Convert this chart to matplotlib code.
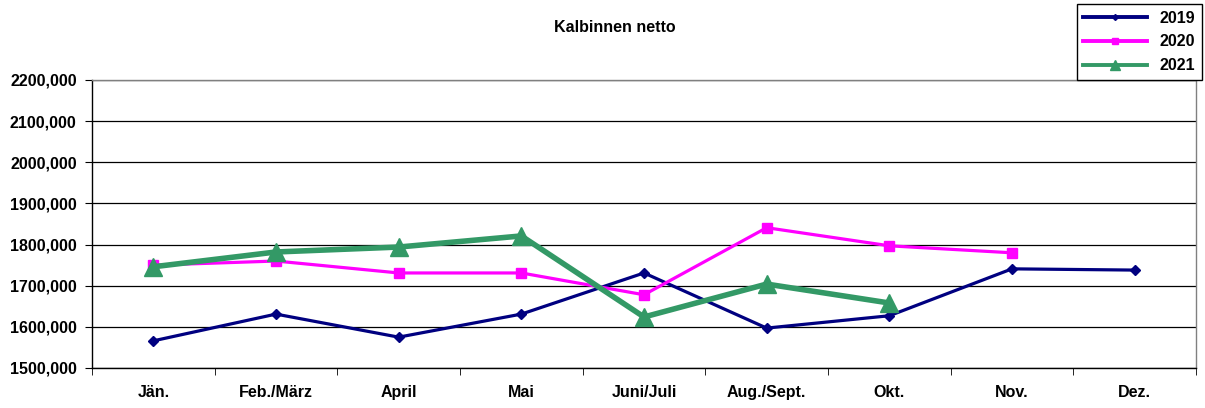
import numpy as np
import matplotlib.pyplot as plt

plt.rcParams['font.family'] = ['Liberation Sans', 'DejaVu Sans']
plt.rcParams['font.weight'] = 'bold'

months = ['Jän.', 'Feb./März', 'April', 'Mai', 'Juni/Juli', 'Aug./Sept.', 'Okt.', 'Nov.', 'Dez.']
v2019 = [1566, 1631, 1575, 1631, 1731, 1597, 1627, 1741, 1738]
v2020 = [1750, 1760, 1731, 1731, 1678, 1841, 1797, 1780]
v2021 = [1746, 1782, 1794, 1821, 1624, 1704, 1658]
y_ticks = [1500, 1600, 1700, 1800, 1900, 2000, 2100, 2200]

FS = 11.5

fig = plt.figure(figsize=(12.05, 4.08), dpi=100)
ax = fig.add_axes([92/1205, 40/408, (1196-92)/1205, (368-80)/408])

x = np.arange(len(months))
ax.plot(x, v2019, color='#000080', lw=2.3, marker='D', ms=5, label='2019', zorder=3)
ax.plot(x[:len(v2020)], v2020, color='#FF00FF', lw=2.3, marker='s', ms=7, label='2020', zorder=4)
ax.plot(x[:len(v2021)], v2021, color='#339966', lw=4, marker='^', ms=13, label='2021', zorder=5)

ax.set_xlim(-0.5, len(months) - 0.5)
ax.set_ylim(1500, 2200)
ax.set_yticks(y_ticks)
ax.set_yticklabels([f'{v},000' for v in y_ticks], fontsize=FS, fontweight='bold')
ax.set_xticks(x)
ax.set_xticklabels(months, fontsize=FS, fontweight='bold')
ax.set_xticks(np.arange(-0.5, len(months)), minor=True)
ax.tick_params(axis='x', which='major', length=0, pad=12)
ax.tick_params(axis='x', which='minor', length=5, direction='out')
ax.tick_params(axis='y', length=5, direction='out', pad=6)
ax.grid(axis='y', color='black', lw=0.9)
for s in ax.spines.values():
    s.set_color('black')
    s.set_linewidth(1)
ax.spines['top'].set_color('#808080')
ax.spines['right'].set_color('#808080')

fig.text(615/1205, 1 - 27/408, 'Kalbinnen netto', ha='center', va='center', fontsize=FS, fontweight='bold')

leg = fig.legend(loc='upper right', bbox_to_anchor=(1205/1205, 1 - 1/408), fancybox=False,
                 edgecolor='black', fontsize=FS, handlelength=4.0, borderpad=0.4,
                 labelspacing=0.55, framealpha=1, markerscale=0.6, borderaxespad=0.2)
leg.get_frame().set_linewidth(1)
for h in leg.get_lines():
    h.set_linewidth(2.8)

fig.savefig('out.png', dpi=100)
